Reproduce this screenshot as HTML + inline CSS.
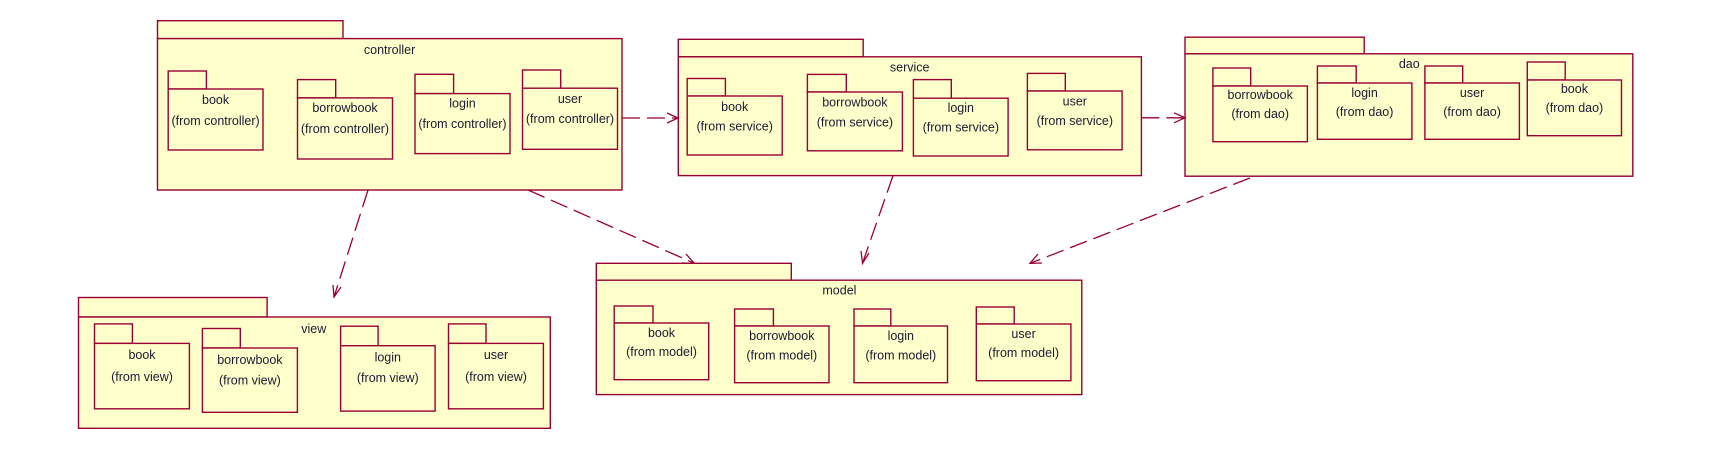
<!DOCTYPE html>
<html><head><meta charset="utf-8"><style>
html,body{margin:0;padding:0;background:#fff;}
svg{display:block;}
text{font-family:"Liberation Sans",sans-serif;font-size:12.5px;fill:#1a1a33;text-anchor:middle;dominant-baseline:central;}
.p{fill:#ffffcc;stroke:#990033;stroke-width:1.4;}
.d{fill:none;stroke:#990033;stroke-width:1.3;stroke-dasharray:18,7;}
.a{fill:none;stroke:#990033;stroke-width:1.3;}
</style></head><body>
<svg width="1715" height="460" viewBox="0 0 1715 460" xmlns="http://www.w3.org/2000/svg">
<!-- controller -->
<rect class="p" x="157.5" y="20.7" width="185.5" height="17.9"/>
<rect class="p" x="157.5" y="38.6" width="464.5" height="151.4"/>
<text x="389.6" y="50">controller</text>
<rect class="p" x="168.2" y="71" width="38.2" height="18"/><rect class="p" x="168.2" y="89" width="94.8" height="61"/>
<text x="215.6" y="100">book</text><text x="215.6" y="121">(from controller)</text>
<rect class="p" x="297.5" y="79.6" width="38.2" height="18.3"/><rect class="p" x="297.5" y="97.9" width="95" height="61.1"/>
<text x="345" y="108">borrowbook</text><text x="345" y="129">(from controller)</text>
<rect class="p" x="415" y="74.3" width="38.6" height="19.3"/><rect class="p" x="415" y="93.6" width="95" height="60"/>
<text x="462.5" y="103.6">login</text><text x="462.5" y="124">(from controller)</text>
<rect class="p" x="522.5" y="70" width="38.2" height="18.2"/><rect class="p" x="522.5" y="88.2" width="95" height="61.1"/>
<text x="570" y="99">user</text><text x="570" y="119">(from controller)</text>

<!-- service -->
<rect class="p" x="678.3" y="39.3" width="184.9" height="17.5"/>
<rect class="p" x="678.3" y="56.8" width="463.1" height="118.8"/>
<text x="909.7" y="67.5">service</text>
<rect class="p" x="687.2" y="78.5" width="38.2" height="17.5"/><rect class="p" x="687.2" y="96" width="95" height="59"/>
<text x="734.7" y="106.8">book</text><text x="734.7" y="126.4">(from service)</text>
<rect class="p" x="807.4" y="74.4" width="38.9" height="17.6"/><rect class="p" x="807.4" y="92" width="95" height="58.8"/>
<text x="854.9" y="102.3">borrowbook</text><text x="854.9" y="122.3">(from service)</text>
<rect class="p" x="913.4" y="79.6" width="37.9" height="18.6"/><rect class="p" x="913.4" y="98.2" width="94.7" height="57.8"/>
<text x="960.8" y="108">login</text><text x="960.8" y="127.4">(from service)</text>
<rect class="p" x="1027.4" y="73.4" width="37.9" height="17.6"/><rect class="p" x="1027.4" y="91" width="94.7" height="58.8"/>
<text x="1074.8" y="101.6">user</text><text x="1074.8" y="121.2">(from service)</text>

<!-- dao -->
<rect class="p" x="1185" y="37.2" width="179.2" height="16.6"/>
<rect class="p" x="1185" y="53.8" width="447.8" height="122.4"/>
<text x="1409.3" y="64">dao</text>
<rect class="p" x="1212.9" y="68" width="37.8" height="18"/><rect class="p" x="1212.9" y="86" width="94.5" height="55.7"/>
<text x="1260.2" y="94.9">borrowbook</text><text x="1260.2" y="113.8">(from dao)</text>
<rect class="p" x="1317.4" y="66" width="38.8" height="17"/><rect class="p" x="1317.4" y="83" width="94.5" height="56.3"/>
<text x="1364.6" y="92.9">login</text><text x="1364.6" y="111.8">(from dao)</text>
<rect class="p" x="1424.9" y="66" width="37.8" height="17"/><rect class="p" x="1424.9" y="83" width="94.5" height="56.3"/>
<text x="1472.1" y="92.9">user</text><text x="1472.1" y="111.8">(from dao)</text>
<rect class="p" x="1527.3" y="62" width="37.9" height="18"/><rect class="p" x="1527.3" y="80" width="94.2" height="55.7"/>
<text x="1574.4" y="89">book</text><text x="1574.4" y="107.8">(from dao)</text>

<!-- view -->
<rect class="p" x="78.5" y="297.5" width="188.6" height="19.5"/>
<rect class="p" x="78.5" y="317" width="471.8" height="111.3"/>
<text x="313.8" y="328.8">view</text>
<rect class="p" x="94.5" y="323.9" width="37.9" height="19.5"/><rect class="p" x="94.5" y="343.4" width="94.9" height="65.4"/>
<text x="142" y="354.9">book</text><text x="142" y="377">(from view)</text>
<rect class="p" x="202.4" y="328.5" width="37.9" height="19.5"/><rect class="p" x="202.4" y="348" width="95" height="64.3"/>
<text x="249.9" y="359.8">borrowbook</text><text x="249.9" y="380.5">(from view)</text>
<rect class="p" x="340.6" y="326.2" width="37.5" height="19.5"/><rect class="p" x="340.6" y="345.7" width="94.5" height="65.4"/>
<text x="387.8" y="357.5">login</text><text x="387.8" y="377.8">(from view)</text>
<rect class="p" x="448.5" y="323.9" width="37.5" height="19.5"/><rect class="p" x="448.5" y="343.4" width="94.9" height="65.4"/>
<text x="496" y="354.9">user</text><text x="496" y="377">(from view)</text>

<!-- model -->
<rect class="p" x="596.3" y="263.3" width="195" height="16.9"/>
<rect class="p" x="596.3" y="280.2" width="485.5" height="114.4"/>
<text x="839.4" y="290.5">model</text>
<rect class="p" x="614.2" y="306" width="38.8" height="17"/><rect class="p" x="614.2" y="323" width="94.5" height="56.7"/>
<text x="661.5" y="333">book</text><text x="661.5" y="352.2">(from model)</text>
<rect class="p" x="734.6" y="309" width="38.8" height="17"/><rect class="p" x="734.6" y="326" width="94.4" height="56.7"/>
<text x="781.8" y="336.2">borrowbook</text><text x="781.8" y="355.5">(from model)</text>
<rect class="p" x="854" y="309" width="36.8" height="17"/><rect class="p" x="854" y="326" width="93.5" height="56.7"/>
<text x="900.8" y="336.2">login</text><text x="900.8" y="355.5">(from model)</text>
<rect class="p" x="976.3" y="307" width="37.9" height="17"/><rect class="p" x="976.3" y="324" width="94.6" height="56.7"/>
<text x="1023.6" y="334.2">user</text><text x="1023.6" y="353">(from model)</text>

<!-- connectors -->
<line class="d" x1="622" y1="118" x2="678" y2="118"/>
<polyline class="a" points="667,113 678,118 667,123"/>
<line class="d" x1="1141.4" y1="117.8" x2="1185" y2="117.8"/>
<polyline class="a" points="1174,112.8 1185,117.8 1174,122.8"/>
<line class="d" x1="368" y1="190" x2="334" y2="297"/>
<polyline class="a" points="333,285 334,297 341,287"/>
<line class="d" x1="528" y1="190" x2="694.4" y2="263.3"/>
<polyline class="a" points="682,263 694.4,263.3 686,254"/>
<line class="d" x1="893" y1="175.6" x2="862.5" y2="263.3"/>
<polyline class="a" points="861,251 862.5,263.3 869,253"/>
<line class="d" x1="1250" y1="178" x2="1030" y2="263.3"/>
<polyline class="a" points="1038,254 1030,263.3 1042,263"/>
</svg>
</body></html>
